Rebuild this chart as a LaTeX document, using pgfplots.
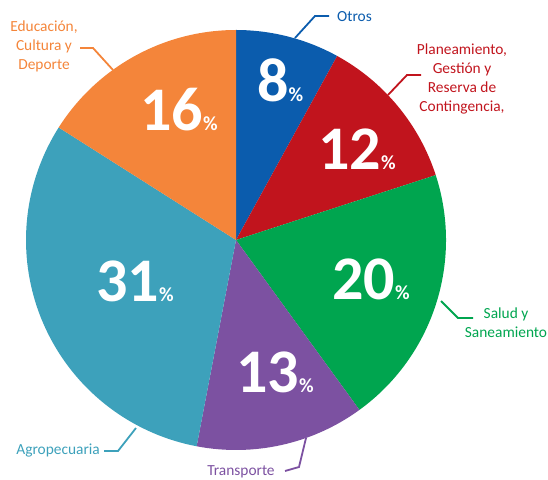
\documentclass[border=0pt]{standalone}
\usepackage{pgfplots}
\pgfplotsset{compat=1.18}
\usepackage{pgfplotstable}
\usepackage{fontspec}
\setmainfont{Carlito}
\definecolor{cOtros}{HTML}{0B5CAD}
\definecolor{cPlan}{HTML}{C1141D}
\definecolor{cSalud}{HTML}{00A54F}
\definecolor{cTrans}{HTML}{7C51A1}
\definecolor{cAgro}{HTML}{3DA1BB}
\definecolor{cEduc}{HTML}{F4853A}

% slices clockwise from 12 o'clock; lx, ly = position of the percentage label (base west)
\pgfplotstableread{
name value color lx ly
Otros 8 cOtros 257 102
Planeamiento 12 cPlan 318 170
Salud 20 cSalud 332 300
Transporte 13 cTrans 236 392
Agropecuaria 31 cAgro 96 302
Educacion 16 cEduc 140 131
}\piedata

\newcommand{\bignum}[1]{{\bfseries\fontsize{62}{62}\selectfont #1\fontsize{20}{20}\selectfont\%}}

\begin{document}
\begin{tikzpicture}
\begin{axis}[
  width=548pt, height=479pt, scale only axis,
  xmin=0, xmax=548, ymin=0, ymax=479,
  hide axis, clip=false,
]
\xdef\cum{0}
\pgfplotsforeachungrouped \i in {0,...,5}{%
  \pgfplotstablegetelem{\i}{value}\of\piedata \let\val\pgfplotsretval
  \pgfplotstablegetelem{\i}{color}\of\piedata \let\col\pgfplotsretval
  \pgfplotstablegetelem{\i}{lx}\of\piedata \let\lx\pgfplotsretval
  \pgfplotstablegetelem{\i}{ly}\of\piedata \let\ly\pgfplotsretval
  \pgfmathsetmacro{\sa}{90-3.6*\cum}
  \pgfmathsetmacro{\ea}{90-3.6*(\cum+\val)}
  \pgfmathsetmacro{\lyy}{479-\ly}
  \edef\temp{\noexpand\fill[\col] (axis cs:236,239) -- ++(\sa:210pt) arc[start angle=\sa, end angle=\ea, radius=210pt] -- cycle;
    \noexpand\node[anchor=base west, inner sep=0pt, text=white] at (axis cs:\lx,\lyy) {\noexpand\bignum{\val}};}
  \temp
  \pgfmathsetmacro{\newcum}{\cum+\val}\xdef\cum{\newcum}
}
% leader lines (image y converted: y = 479 - y_img)
\draw[cOtros, line width=1.8pt] (axis cs:295,441) -- (axis cs:315,463) -- (axis cs:329,463);
\draw[cPlan, line width=1.8pt] (axis cs:388,384) -- (axis cs:407,404) -- (axis cs:421,404);
\draw[cSalud, line width=1.8pt] (axis cs:441,178) -- (axis cs:458,161) -- (axis cs:473,161);
\draw[cTrans, line width=1.8pt] (axis cs:306,41) -- (axis cs:299,12) -- (axis cs:285,8);
\draw[cAgro, line width=1.8pt] (axis cs:136,51) -- (axis cs:118,28) -- (axis cs:104,28);
\draw[cEduc, line width=1.8pt] (axis cs:113,409) -- (axis cs:93,431) -- (axis cs:80,431);
% category labels
\tikzset{catlab/.style={font=\fontsize{15.4}{19}\selectfont, inner sep=0pt}}
\node[text=cOtros, catlab, anchor=west] at (axis cs:337,462) {Otros};
\node[text=cPlan, catlab, align=center] at (axis cs:462,400) {Planeamiento,\\Gestión y\\Reserva de\\Contingencia,};
\node[text=cSalud, catlab, align=center] at (axis cs:506,156) {Salud y\\Saneamiento};
\node[text=cTrans, catlab, anchor=south] at (axis cs:241,1) {Transporte};
\node[text=cAgro, catlab, anchor=east] at (axis cs:100,28) {Agropecuaria};
\node[text=cEduc, catlab, align=center] at (axis cs:44,433) {Educación,\\Cultura y\\Deporte};
\end{axis}
\pgfresetboundingbox
\useasboundingbox (0,0) rectangle (548pt,479pt);
\end{tikzpicture}
\end{document}
